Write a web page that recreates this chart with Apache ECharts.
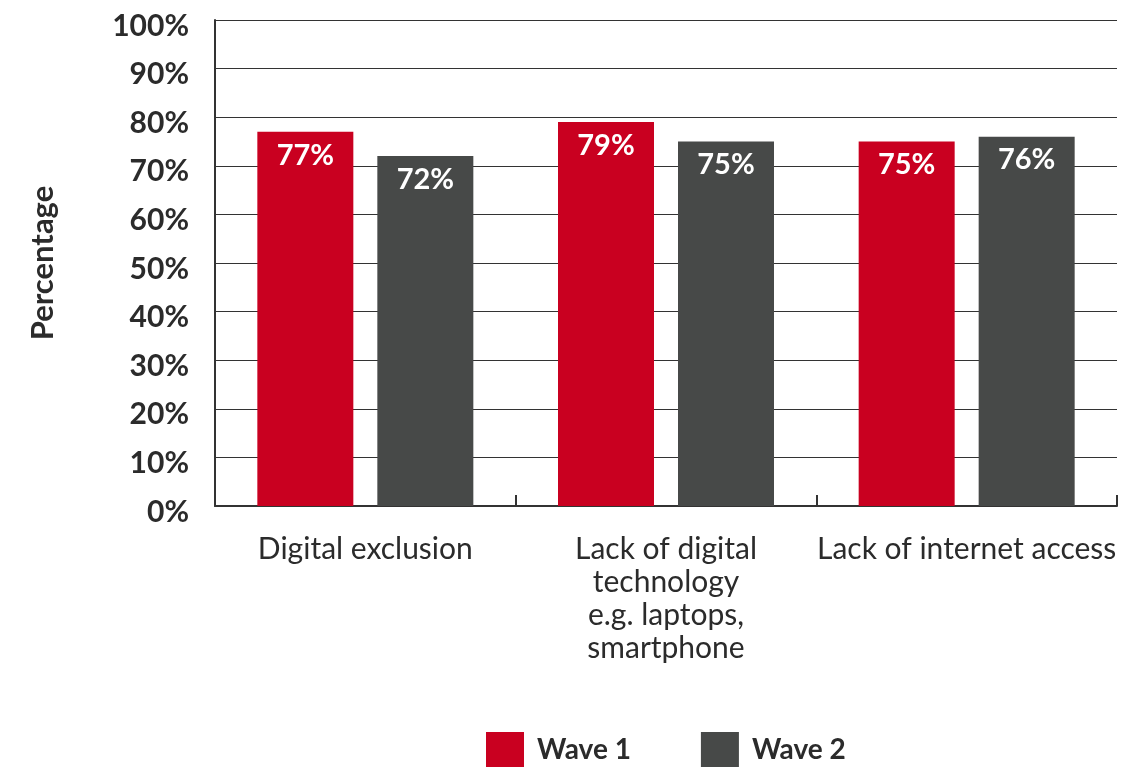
<!DOCTYPE html>
<html>
<head>
<meta charset="utf-8">
<script src="https://cdn.jsdelivr.net/npm/echarts@6/dist/echarts.min.js"></script>
<style>
  html, body { margin: 0; padding: 0; background: #ffffff; }
  #chart { width: 1144px; height: 769px; }
</style>
</head>
<body>
<div id="chart"></div>
<script>
// Categories and survey results (percent) for each wave
const categories = [
  'Digital exclusion',
  'Lack of digital\ntechnology\ne.g. laptops,\nsmartphone',
  'Lack of internet access'
];
const wave1 = [77, 79, 75];
const wave2 = [72, 75, 76];
const seriesNames = ['Wave 1', 'Wave 2'];
const yTicks = [0, 10, 20, 30, 40, 50, 60, 70, 80, 90, 100];

const RED = '#C90020';
const DARK = '#474948';
const TEXT = '#2b2b2b';
const FONT = 'Lato, "Open Sans", sans-serif';

const chart = echarts.init(document.getElementById('chart'), null, { renderer: 'canvas' });

const valueLabel = {
  show: true,
  position: 'insideTop',
  distance: 9,
  color: '#ffffff',
  fontFamily: FONT,
  fontWeight: 'bold',
  fontSize: 29,
  formatter: p => p.value + '%'
};

chart.setOption({
  animation: false,
  backgroundColor: '#ffffff',
  grid: { left: 215, right: 27, top: 20, bottom: 263, containLabel: false },
  legend: {
    data: seriesNames,
    bottom: -3,
    left: 481,
    itemWidth: 38,
    itemHeight: 35,
    itemGap: 70,
    icon: 'rect',
    textStyle: { color: TEXT, fontFamily: FONT, fontSize: 28, fontWeight: 'bold', padding: [0, 0, 0, 8] }
  },
  xAxis: {
    type: 'category',
    data: categories,
    axisLine: { show: true, lineStyle: { color: '#333333', width: 2 } },
    axisTick: { show: true, inside: true, length: 11, lineStyle: { color: '#333333', width: 2 } },
    axisLabel: {
      color: TEXT,
      fontFamily: FONT,
      fontSize: 30,
      lineHeight: 33,
      margin: 27,
      interval: 0,
      align: 'center'
    }
  },
  yAxis: {
    type: 'value',
    min: 0,
    max: 100,
    interval: 10,
    name: 'Percentage',
    nameLocation: 'middle',
    nameGap: 157,
    nameRotate: 90,
    nameTextStyle: { color: TEXT, fontFamily: FONT, fontSize: 31, fontWeight: 'bold' },
    axisLine: { show: true, lineStyle: { color: '#333333', width: 2 } },
    axisTick: { show: false },
    splitLine: { show: true, lineStyle: { color: '#333333', width: 1 } },
    axisLabel: {
      color: TEXT,
      fontFamily: FONT,
      fontSize: 30,
      fontWeight: 'bold',
      margin: 26,
      verticalAlign: 'top',
      lineHeight: 12,
      customValues: yTicks,
      formatter: v => v + '%'
    }
  },
  series: [
    {
      name: seriesNames[0],
      type: 'bar',
      data: wave1,
      barWidth: 96,
      barGap: '25%',
      itemStyle: { color: RED },
      label: valueLabel
    },
    {
      name: seriesNames[1],
      type: 'bar',
      data: wave2,
      barWidth: 96,
      itemStyle: { color: DARK },
      label: valueLabel
    }
  ]
});
</script>
</body>
</html>
